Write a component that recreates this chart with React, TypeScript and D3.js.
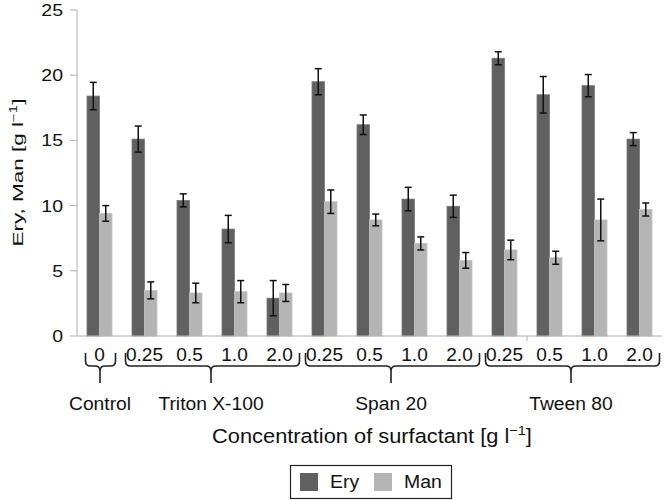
import React from "react";
import * as d3 from "d3";

const concLabels = ["0", "0.25", "0.5", "1.0", "2.0", "0.25", "0.5", "1.0", "2.0", "0.25", "0.5", "1.0", "2.0"];
const eryValues = [18.4, 15.1, 10.4, 8.2, 2.9, 19.5, 16.2, 10.5, 9.95, 21.3, 18.5, 19.2, 15.1];
const eryErrors = [1.05, 1.0, 0.5, 1.05, 1.35, 1.0, 0.75, 0.9, 0.85, 0.5, 1.4, 0.85, 0.5];
const manValues = [9.4, 3.5, 3.3, 3.4, 3.3, 10.3, 8.9, 7.1, 5.8, 6.6, 6.0, 8.9, 9.7];
const manErrors = [0.6, 0.65, 0.75, 0.85, 0.65, 0.9, 0.45, 0.5, 0.6, 0.75, 0.5, 1.6, 0.5];
const seriesNames = ["Ery", "Man"];
const seriesColors = ["#606060", "#b4b4b4"];
const groupNames = ["Control", "Triton X-100", "Span 20", "Tween 80"];
const groupStarts = [0, 1, 5, 9];
const groupEnds = [0, 4, 8, 12];
const yTicks = [0, 5, 10, 15, 20, 25];

const FONT = "'Liberation Sans', Arial, Helvetica, sans-serif";

function T(props: { x: number; y: number; sx?: number; size: number; anchor?: string; children: React.ReactNode; dy?: string }) {
  const { x, y, sx = 1, size, anchor = "start", children, dy } = props;
  return (
    <text transform={`translate(${x},${y}) scale(${sx},1)`} fontSize={size} textAnchor={anchor} dy={dy} fill="#111">
      {children}
    </text>
  );
}

export default function App() {
  const left = 77, right = 662, top = 10, bottom = 336;
  const ids = concLabels.map((_, i) => String(i));
  const x0 = d3.scaleBand().domain(ids).range([left, right]).paddingInner(0).paddingOuter(0);
  const x1 = d3.scaleBand().domain(seriesNames).range([0, x0.bandwidth()]).paddingInner(0).paddingOuter(0.8);
  const y = d3.scaleLinear().domain([0, 25]).range([bottom, top]);
  const values = [eryValues, manValues];
  const errors = [eryErrors, manErrors];
  const center = (i: number) => (x0(String(i)) as number) + x0.bandwidth() / 2;

  const bracePath = (l: number, r: number, c: number) => {
    const t = 353, h = 366, tip = 383;
    return `M${l},${t} L${l},${h - 5} Q${l},${h} ${l + 5},${h} L${c - 5},${h} Q${c},${h} ${c},${h + 5} L${c},${tip} M${c},${h + 5} Q${c},${h} ${c + 5},${h} L${r - 5},${h} Q${r},${h} ${r},${h - 5} L${r},${t}`;
  };

  return (
    <svg width={665} height={500} style={{ position: "absolute", left: 0, top: 0, background: "#fff" }} fontFamily={FONT}>
      {/* y axis */}
      <line x1={left} x2={left} y1={top} y2={bottom} stroke="#b0b0b0" strokeWidth={1} />
      {yTicks.map((t) => (
        <g key={t}>
          <line x1={left - 7} x2={left} y1={y(t)} y2={y(t)} stroke="#b0b0b0" />
          <T x={63} y={y(t) + 6} sx={1.18} size={16.5} anchor="end">{t}</T>
        </g>
      ))}
      <text transform={`translate(23,172.5) rotate(-90) scale(1.5,1)`} textAnchor="middle" fontSize={15} fill="#111">
        Ery, Man [g l<tspan dy={-6} fontSize={10}>−1</tspan><tspan dy={6}>]</tspan>
      </text>
      {/* bars */}
      {ids.map((id, i) => (
        <g key={id}>
          {seriesNames.map((s, k) => {
            const bx = (x0(id) as number) + (x1(s) as number);
            const v = values[k][i];
            const e = errors[k][i];
            const cx = bx + x1.bandwidth() / 2;
            return (
              <g key={s}>
                <rect x={bx} y={y(v)} width={x1.bandwidth()} height={bottom - y(v)} fill={seriesColors[k]} stroke={k === 0 ? "#787878" : "#c4c4c4"} strokeWidth={0.8} />
                <line x1={cx} x2={cx} y1={y(v + e)} y2={y(v - e)} stroke="#111" strokeWidth={1.5} />
                <line x1={cx - 3.5} x2={cx + 3.5} y1={y(v + e)} y2={y(v + e)} stroke="#111" strokeWidth={1.5} />
                <line x1={cx - 3.5} x2={cx + 3.5} y1={y(v - e)} y2={y(v - e)} stroke="#111" strokeWidth={1.5} />
              </g>
            );
          })}
        </g>
      ))}
      {/* x axis */}
      <line x1={left} x2={right} y1={bottom} y2={bottom} stroke="#b0b0b0" />
      <line x1={x0("10") as number} x2={x0("10") as number} y1={bottom} y2={bottom + 5} stroke="#b0b0b0" />
      {concLabels.map((l, i) => (
        <T key={i} x={center(i)} y={361} sx={1.06} size={18} anchor="middle">{l}</T>
      ))}
      {groupNames.map((g, k) => {
        const a = groupStarts[k], b = groupEnds[k];
        const c = (center(a) + center(b)) / 2;
        const l = a === b ? c - 14 : center(a) - 19;
        const r = a === b ? c + 16 : center(b) + 20;
        const cc = a === b ? c + 0.5 : c - 1;
        return (
          <g key={g}>
            <path d={bracePath(l, r, cc)} fill="none" stroke="#222" strokeWidth={1.6} />
            <T x={cc} y={410} sx={1.07} size={18} anchor="middle">{g}</T>
          </g>
        );
      })}
      <text transform="translate(372,443) scale(1.12,1)" textAnchor="middle" fontSize={19.5} fill="#111">
        Concentration of surfactant [g l<tspan dy={-8} fontSize={13}>−1</tspan><tspan dy={8}>]</tspan>
      </text>
      {/* legend */}
      <rect x={290.5} y={465.5} width={161} height={33} fill="#fff" stroke="#222" strokeWidth={1.2} />
      {seriesNames.map((s, k) => (
        <g key={s}>
          <rect x={300 + k * 74} y={473} width={18} height={18} fill={seriesColors[k]} />
          <T x={330 + k * 74} y={488} sx={1.05} size={18.5}>{s}</T>
        </g>
      ))}
    </svg>
  );
}
